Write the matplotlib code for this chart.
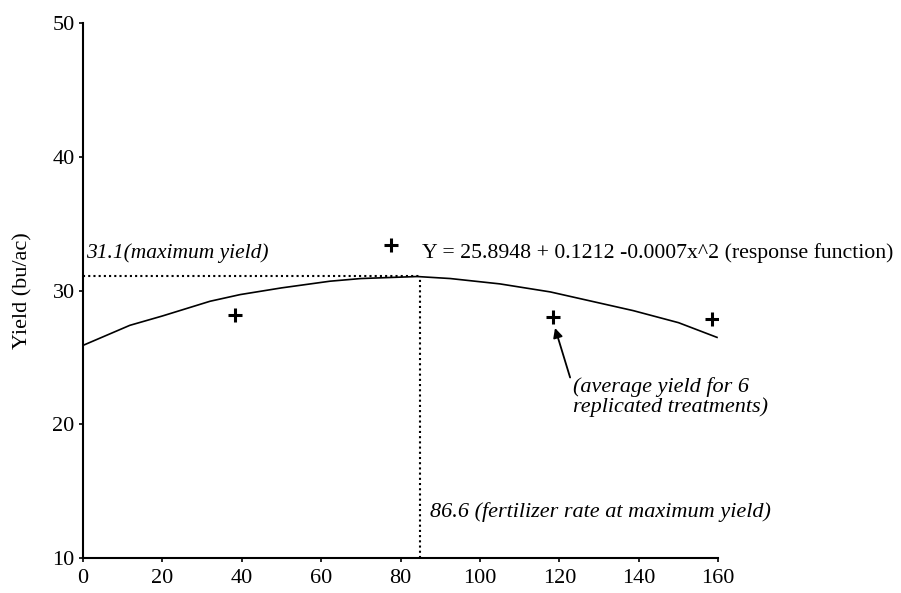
import matplotlib
matplotlib.use('Agg')
import matplotlib.pyplot as plt

# Кривая отклика (точки)
curve_x = [0, 11.8, 20, 32, 39.6, 50, 62.2, 70, 84.2, 92.5, 105, 117.7, 138.6, 150, 159.7]
curve_y = [25.9, 27.4, 28.1, 29.2, 29.7, 30.2, 30.7, 30.9, 31.05, 30.9, 30.5, 29.9, 28.5, 27.6, 26.5]

# Средние урожаи по вариантам
pts_x = [38.3, 77.6, 118.4, 158.4]
pts_y = [28.2, 33.4, 28.0, 27.9]

x_opt = 84.9
y_opt = 31.1

x_ticks = [0, 20, 40, 60, 80, 100, 120, 140, 160]
y_ticks = [10, 20, 30, 40, 50]

plt.rcParams['font.family'] = ['Liberation Serif', 'DejaVu Serif']

fig = plt.figure(figsize=(9.01, 5.93), dpi=100)
ax = fig.add_axes([0.0921, 0.059, 0.705, 0.902])

ax.plot(curve_x, curve_y, color='black', linewidth=1.2)
ax.plot(pts_x, pts_y, linestyle='none', marker='+', markersize=10,
        markeredgewidth=2.2, color='black')

ax.plot([0, x_opt], [y_opt, y_opt], color='black', linestyle=(0, (1, 1.5)), linewidth=1.5)
ax.plot([x_opt, x_opt], [10, y_opt], color='black', linestyle=(0, (1, 1.5)), linewidth=1.5)

ax.set_xlim(0, 160)
ax.set_ylim(10, 50)
ax.set_xticks(x_ticks)
ax.set_yticks(y_ticks)
ax.tick_params(direction='out', length=3, width=1.2, labelsize=16)
ax.tick_params(axis='x', pad=5)
ax.tick_params(axis='y', pad=3)
ax.spines['top'].set_visible(False)
ax.spines['right'].set_visible(False)
ax.spines['left'].set_linewidth(1.5)
ax.spines['bottom'].set_linewidth(1.5)

ax.set_ylabel('Yield (bu/ac)', fontsize=16, labelpad=14)

ax.text(0.8, 32.4, '31.1(maximum yield)', fontsize=15.5, style='italic')
ax.text(85.5, 32.4, 'Y = 25.8948 + 0.1212 -0.0007x^2 (response function)',
        fontsize=15.7, clip_on=False)
ax.text(87.4, 13.05, '86.6 (fertilizer rate at maximum yield)', fontsize=16,
        style='italic')
ax.annotate('', xy=(118.9, 27.2), xytext=(122.7, 23.5),
            arrowprops=dict(arrowstyle='-|>', color='black', lw=1.3,
                            shrinkA=0, shrinkB=0, mutation_scale=14))
ax.text(123.5, 23.5, '(average yield for 6\nreplicated treatments)',
        fontsize=16, style='italic', va='top', linespacing=1.0)

fig.savefig('out.png', dpi=100)
